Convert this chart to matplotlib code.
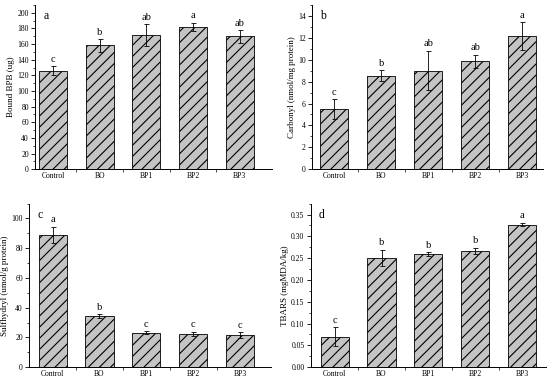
import matplotlib
matplotlib.use("Agg")
import matplotlib.pyplot as plt
from matplotlib.ticker import MultipleLocator, FixedLocator

plt.rcParams["font.family"] = ["Liberation Serif", "DejaVu Serif"]
plt.rcParams["hatch.color"] = "#3a3a3a"
plt.rcParams["hatch.linewidth"] = 0.8

# ── Data ─────────────────────────────────────────────────────────────────
GROUPS = ["Control", "BO", "BP1", "BP2", "BP3"]

BPB_MEAN = [126, 158.5, 171.5, 182, 170]
BPB_ERR = [6, 8, 14, 5, 8]
BPB_SIG = ["c", "b", "ab", "a", "ab"]

CARB_MEAN = [5.5, 8.55, 9.0, 9.85, 12.15]
CARB_ERR = [0.9, 0.5, 1.8, 0.6, 1.25]
CARB_SIG = ["c", "b", "ab", "ab", "a"]

SH_MEAN = [89, 34.2, 23, 22.5, 21.6]
SH_ERR = [5.5, 1.5, 1.0, 1.3, 2.0]
SH_SIG = ["a", "b", "c", "c", "c"]

TBARS_MEAN = [0.070, 0.251, 0.259, 0.267, 0.327]
TBARS_ERR = [0.021, 0.018, 0.005, 0.007, 0.004]
TBARS_SIG = ["c", "b", "b", "b", "a"]

FILL = "#c4c4c4"


def draw_panel(fig, rect, means, errs, sigs, ylabel, letter,
               ymax, major, minor, xlim, fmt=None, off=0.015):
    ax = fig.add_axes(rect)
    xs = list(range(1, len(GROUPS) + 1))
    ax.bar(xs, means, width=0.6, color=FILL, edgecolor="black",
           linewidth=0.6, hatch="///")
    ax.errorbar(xs, means, yerr=errs, fmt="none", ecolor="black",
                elinewidth=0.6, capsize=1.8, capthick=0.6)
    for x, m, e, s in zip(xs, means, errs, sigs):
        ax.text(x, m + e + ymax * off, s, ha="center", va="bottom",
                fontsize=7.5)
    ax.set_xlim(*xlim)
    ax.set_ylim(0, ymax)
    ax.set_xticks(xs)
    ax.set_xticklabels(GROUPS, fontsize=5.5)
    ax.xaxis.set_minor_locator(FixedLocator([x + 0.5 for x in xs[:-1]]))
    ax.yaxis.set_major_locator(MultipleLocator(major))
    ax.yaxis.set_minor_locator(MultipleLocator(minor))
    if fmt:
        ax.yaxis.set_major_formatter(plt.FormatStrFormatter(fmt))
    ax.tick_params(axis="y", labelsize=5.5, length=3, width=0.6,
                   direction="out", pad=1.5)
    ax.tick_params(axis="y", which="minor", length=1.6, width=0.5,
                   direction="out")
    ax.tick_params(axis="x", length=0, pad=2)
    ax.tick_params(axis="x", which="minor", length=2.5, width=0.5,
                   direction="out")
    for side in ("top", "right"):
        ax.spines[side].set_visible(False)
    for side in ("left", "bottom"):
        ax.spines[side].set_linewidth(0.7)
    ax.set_ylabel(ylabel, fontsize=6.5, labelpad=1.5)
    ax.text(0.035, 0.93, letter, transform=ax.transAxes, fontsize=8.5,
            ha="left", va="center")
    return ax


def main():
    fig = plt.figure(figsize=(5.5, 3.82), dpi=100)

    draw_panel(fig, [0.064, 0.557, 0.431, 0.430], BPB_MEAN, BPB_ERR,
               BPB_SIG, "Bound BPB (ug)", "a", 210, 20, 10, (0.62, 5.7))
    draw_panel(fig, [0.567, 0.557, 0.420, 0.430], CARB_MEAN, CARB_ERR,
               CARB_SIG, "Carbonyl (nmol/mg protein)", "b", 15, 2, 1,
               (0.52, 5.44))
    draw_panel(fig, [0.053, 0.039, 0.440, 0.428], SH_MEAN, SH_ERR,
               SH_SIG, "Sulfhydryl (umol/g protein)", "c", 110, 20, 10,
               (0.5, 5.66))
    draw_panel(fig, [0.565, 0.039, 0.427, 0.428], TBARS_MEAN, TBARS_ERR,
               TBARS_SIG, "TBARS (mgMDA/kg)", "d", 0.375, 0.05, 0.025,
               (0.49, 5.5), fmt="%.2f")

    fig.savefig("out.png", dpi=100, facecolor="white")
    plt.close(fig)


if __name__ == "__main__":
    main()
